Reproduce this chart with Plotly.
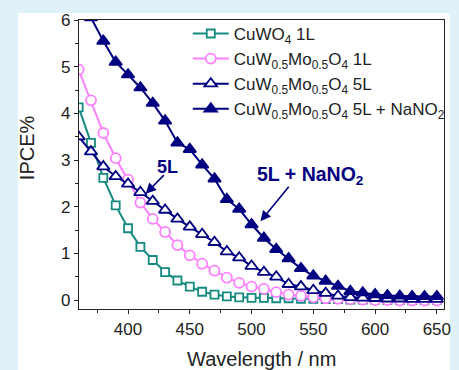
import plotly.graph_objects as go

wavelength = list(range(360, 651, 10))

cuwo4_1l = [4.13, 3.37, 2.62, 2.03, 1.54, 1.14, 0.86, 0.60, 0.42, 0.29,
            0.18, 0.12, 0.08, 0.06, 0.05, 0.05, 0.04, 0.04, 0.03, 0.03,
            0.02, 0.02, 0.01, 0.01, 0.01, 0.0, 0.0, 0.0, 0.0, 0.0]
cuwmo_1l = [4.94, 4.28, 3.58, 3.04, 2.58, 2.09, 1.74, 1.46, 1.18, 0.96,
            0.78, 0.63, 0.48, 0.37, 0.29, 0.24, 0.17, 0.12, 0.09, 0.06,
            0.04, 0.03, 0.02, 0.01, 0.0, 0.0, -0.01, -0.01, -0.01, -0.01]
cuwmo_5l = [3.50, 3.18, 2.86, 2.65, 2.49, 2.31, 2.12, 1.93, 1.74, 1.57,
            1.41, 1.24, 1.04, 0.91, 0.73, 0.60, 0.50, 0.34, 0.29, 0.21,
            0.15, 0.09, 0.06, 0.05, 0.04, 0.03, 0.03, 0.02, 0.02, 0.02]
cuwmo_5l_nano2 = [6.5, 6.05, 5.55, 5.10, 4.83, 4.55, 4.22, 3.84, 3.37, 3.23,
                  2.90, 2.60, 2.16, 1.95, 1.62, 1.33, 1.09, 0.89, 0.68, 0.52,
                  0.41, 0.30, 0.19, 0.16, 0.12, 0.10, 0.09, 0.08, 0.08, 0.08]

names = ["CuWO<sub>4</sub> 1L",
         "CuW<sub>0.5</sub>Mo<sub>0.5</sub>O<sub>4</sub> 1L",
         "CuW<sub>0.5</sub>Mo<sub>0.5</sub>O<sub>4</sub> 5L",
         "CuW<sub>0.5</sub>Mo<sub>0.5</sub>O<sub>4</sub> 5L + NaNO<sub>2</sub>"]

TEAL = "#148a80"
PINK = "#ff80ff"
NAVY = "#000080"
BG = "#dff1f9"
FONT = "Liberation Sans, Arial, sans-serif"

fig = go.Figure()
series = [
    (cuwo4_1l, names[0], TEAL, "square", "white", 8),
    (cuwmo_1l, names[1], PINK, "circle", "white", 10),
    (cuwmo_5l, names[2], NAVY, "triangle-up", "white", 11),
    (cuwmo_5l_nano2, names[3], NAVY, "triangle-up", NAVY, 11),
]
for ys, nm, col, sym, fill, sz in series:
    fig.add_trace(go.Scatter(
        x=wavelength, y=ys, name=nm, mode="lines+markers",
        line=dict(color=col, width=2),
        marker=dict(symbol=sym, size=sz, color=fill,
                    line=dict(color=col, width=1.8)),
    ))

axis_common = dict(
    showline=True, linecolor="#222", linewidth=1.2, mirror=True,
    ticks="outside", ticklen=4, tickcolor="#222", tickwidth=1,
    showgrid=False, zeroline=False,
    tickfont=dict(family=FONT, size=17, color="#222"),
)
fig.update_xaxes(range=[360.3, 655.8], tickvals=[400, 450, 500, 550, 600, 650],
                 minor=dict(tickvals=[375, 425, 475, 525, 575, 625],
                            ticklen=3, ticks="outside", tickcolor="#222"),
                 **axis_common)
fig.update_yaxes(range=[-0.19, 6.0], tickvals=[0, 1, 2, 3, 4, 5, 6],
                 minor=dict(tickvals=[0.5, 1.5, 2.5, 3.5, 4.5, 5.5],
                            ticklen=3, ticks="outside", tickcolor="#222"),
                 **axis_common)

# white panel behind the figure
fig.add_shape(type="rect", xref="paper", yref="paper",
              x0=-0.1667, x1=1.016, y0=-0.4, y1=1.024,
              fillcolor="white", line=dict(width=0), layer="below")

# axis titles
fig.add_annotation(xref="paper", yref="paper", x=0.5, y=-0.173,
                   text="Wavelength / nm", showarrow=False,
                   font=dict(family=FONT, size=20, color="#222"),
                   xanchor="center", yanchor="middle")
fig.add_annotation(xref="paper", yref="paper", x=-0.1425, y=0.56,
                   text="IPCE%", showarrow=False, textangle=-90,
                   font=dict(family=FONT, size=20, color="#222"),
                   xanchor="center", yanchor="middle")

# labels and arrows
fig.add_annotation(x=431.8, y=2.86, text="<b>5L</b>", showarrow=False,
                   font=dict(family=FONT, size=18, color=NAVY),
                   xanchor="center", yanchor="middle")
fig.add_annotation(x=503, y=2.68, text="<b>5L + NaNO<sub>2</sub></b>",
                   showarrow=False,
                   font=dict(family=FONT, size=19.5, color=NAVY),
                   xanchor="left", yanchor="middle")
fig.add_annotation(x=414.3, y=2.28, ax=430.2, ay=2.71, axref="x", ayref="y",
                   text="", showarrow=True, arrowhead=2, arrowsize=1.3,
                   arrowwidth=1.6, arrowcolor=NAVY)
fig.add_annotation(x=507.2, y=1.69, ax=531.1, ay=2.46, axref="x", ayref="y",
                   text="", showarrow=True, arrowhead=2, arrowsize=1.3,
                   arrowwidth=1.6, arrowcolor=NAVY)

fig.update_layout(
    width=459, height=370,
    margin=dict(l=79, r=8, t=20, b=61),
    paper_bgcolor=BG,
    plot_bgcolor="white",
    showlegend=True,
    legend=dict(x=0.298, y=1.014, xanchor="left", yanchor="top",
                bgcolor="rgba(0,0,0,0)", borderwidth=0,
                font=dict(family=FONT, size=17, color="#222"),
                tracegroupgap=0, itemwidth=36),
    font=dict(family=FONT),
)

fig.write_html(
    "out.html",
    config={"displayModeBar": False},
    post_script="document.body.style.margin='0px';"
                "document.body.style.background='" + BG + "';",
)
